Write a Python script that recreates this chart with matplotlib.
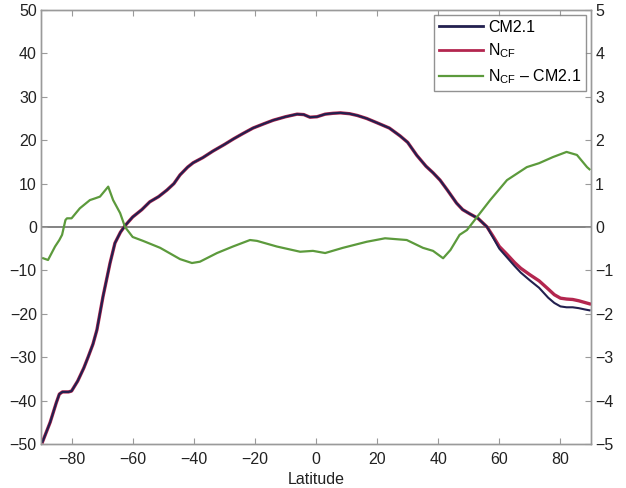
import matplotlib
matplotlib.use("Agg")
import matplotlib.pyplot as plt

plt.rcParams['font.family'] = ['Liberation Sans', 'DejaVu Sans']
plt.rcParams['mathtext.fontset'] = 'custom'
plt.rcParams['mathtext.rm'] = 'Liberation Sans'
plt.rcParams['mathtext.it'] = 'Liberation Sans'

# Latitude grid for CM2.1 and N_CF
lat = [-89.5, -87, -85, -84, -83, -81, -80, -78, -76, -74.6, -73, -71.7, -69.7, -67.4,
       -65.8, -64, -62.5, -60, -57, -54.4, -51.5, -48.8, -46.5, -44.5, -42, -40.2, -37,
       -33.7, -30, -27, -24, -20.6, -17, -14, -10, -6.2, -4, -2, 0.3, 3, 5.6, 8, 11, 13.5,
       16.6, 20, 24, 27.5, 30, 33, 36, 38.3, 40.6, 43, 46, 48, 50.4, 53, 56, 58, 60, 62.5,
       65, 67, 70, 73, 76, 78, 80, 82, 84, 86, 88, 89.5]

cm21 = [-49.5, -45, -40.5, -38.5, -38, -38, -37.8, -35.5, -32.5, -30, -27, -23.7, -16, -8.3,
        -3.7, -1.2, 0.3, 2.3, 4, 5.8, 7, 8.5, 10, 12, 13.8, 14.8, 16,
        17.5, 19, 20.3, 21.5, 22.8, 23.8, 24.6, 25.4, 26, 25.9, 25.3, 25.4, 26, 26.2, 26.3, 26.1, 25.7,
        25, 24, 22.8, 21, 19.5, 16.5, 14, 12.5, 10.8, 8.5, 5.5, 4, 3, 2, 0, -2.5, -5, -7,
        -9, -10.5, -12.3, -14, -16.3, -17.5, -18.3, -18.5, -18.5, -18.7, -19, -19.2]

ncf = [-49.5, -45, -40.5, -38.5, -38, -38, -37.8, -35.5, -32.5, -30, -27, -23.7, -16, -8.3,
       -3.7, -1.2, 0.3, 2.3, 4, 5.8, 7, 8.5, 10, 12, 13.8, 14.8, 16,
       17.5, 19, 20.3, 21.5, 22.8, 23.8, 24.6, 25.4, 26, 25.9, 25.3, 25.4, 26, 26.2, 26.3, 26.1, 25.7,
       25, 24, 22.8, 21, 19.5, 16.5, 14, 12.5, 10.8, 8.5, 5.5, 4, 3, 2, 0, -2.2, -4.5, -6.3,
       -8.2, -9.5, -11, -12.4, -14.3, -15.6, -16.4, -16.6, -16.7, -17, -17.4, -17.7]

# Difference (right axis)
lat_d = [-89.3, -87.7, -85.4, -84, -83.1, -82, -81.5, -80, -77.3, -74, -72.3, -70.7, -68, -66.4,
         -64.1, -62.5, -60, -56.6, -51, -44.5, -40.6, -38, -32.4, -27.2, -21.6, -19.3, -12.8,
         -5.2, -1, 3, 8.8, 16.6, 22.6, 29.7, 35, 38.3, 41.6, 44, 47, 49.4, 52.7, 57, 62.5, 69,
         73, 77.5, 82, 85.4, 88.7, 89.5]
diff = [-0.72, -0.76, -0.45, -0.3, -0.18, 0.16, 0.2, 0.2, 0.43, 0.62, 0.66, 0.7, 0.93, 0.62,
        0.32, 0.0, -0.23, -0.32, -0.48, -0.74, -0.83, -0.8, -0.6, -0.45, -0.3, -0.32, -0.45,
        -0.57, -0.55, -0.6, -0.48, -0.34, -0.26, -0.3, -0.48, -0.55, -0.72, -0.53, -0.18, -0.07,
        0.23, 0.62, 1.08, 1.38, 1.47, 1.61, 1.73, 1.66, 1.38, 1.33]

xticks = [-80, -60, -40, -20, 0, 20, 40, 60, 80]

navy = '#22204f'
red = '#b3264f'
green = '#5c9a3c'
spine = '#9a9a9a'

fig = plt.figure(figsize=(6.26, 4.88), dpi=100)
ax = fig.add_axes([41/626, 1-444/488, 550/626, 434/488])
ax2 = ax.twinx()

ax.axhline(0, color='#7a7a7a', lw=1.3, zorder=1)
l2, = ax.plot(lat, ncf, color=red, lw=2.4, zorder=3, label='N$_{\\mathrm{CF}}$')
l1, = ax.plot(lat, cm21, color=navy, lw=1.5, zorder=4, label='CM2.1')
l3, = ax2.plot(lat_d, diff, color=green, lw=1.6, label='N$_{\\mathrm{CF}}$ \u2013 CM2.1')

ax.set_xlim(-90, 90)
ax.set_ylim(-50, 50)
ax2.set_ylim(-5, 5)
ax.set_xticks(xticks)
ax.set_yticks(range(-50, 51, 10))
ax2.set_yticks(range(-5, 6, 1))

fs = 11.5
ax.tick_params(axis='x', direction='in', top=True, labelsize=fs, color=spine, length=4, pad=6)
ax.tick_params(axis='y', direction='in', right=False, labelsize=fs, color=spine, length=4, pad=3)
ax2.tick_params(axis='y', direction='in', labelsize=fs, color=spine, length=4, pad=3)
for a in (ax, ax2):
    for s in a.spines.values():
        s.set_color(spine)
        s.set_linewidth(1.0)
for lab in ax.get_yticklabels() + ax2.get_yticklabels() + ax.get_xticklabels():
    lab.set_color('#222222')

ax.set_xlabel('Latitude', fontsize=fs, labelpad=3, color='#222222')

h1 = plt.Line2D([], [], color=navy, lw=2.0)
h2 = plt.Line2D([], [], color=red, lw=2.0)
leg = ax2.legend([h1, h2, l3], ['CM2.1', l2.get_label(), l3.get_label()],
                 loc='upper right', fontsize=fs, frameon=True, fancybox=False,
                 borderaxespad=0.3, handlelength=2.8, handletextpad=0.3,
                 labelspacing=0.45, borderpad=0.3)
leg.get_frame().set_edgecolor('#777777')
leg.get_frame().set_linewidth(1.0)

fig.savefig('out.png', dpi=100)
